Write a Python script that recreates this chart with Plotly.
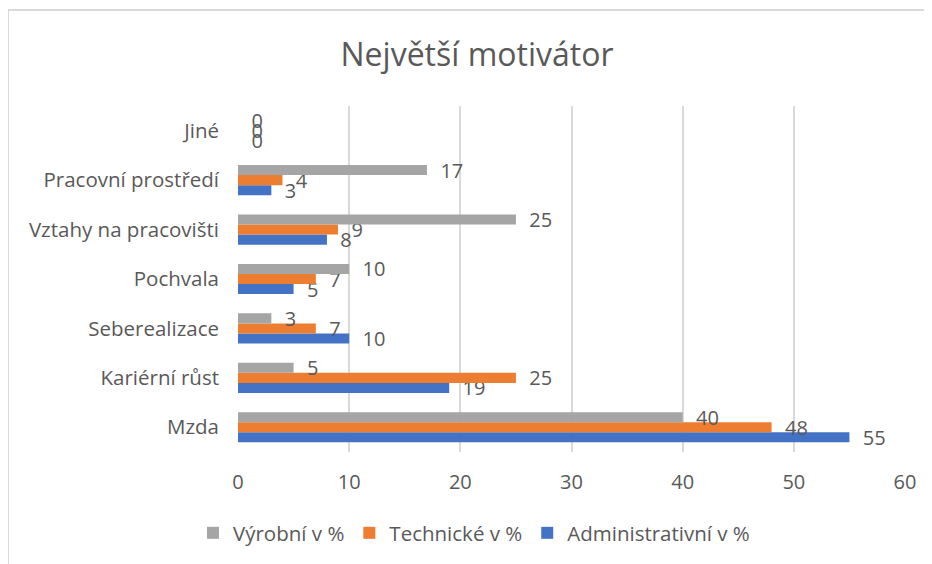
import plotly.graph_objects as go

categories = ["Mzda", "Kariérní růst", "Seberealizace", "Pochvala",
              "Vztahy na pracovišti", "Pracovní prostředí", "Jiné"]
administrativni = [55, 19, 10, 5, 8, 3, 0]
technicke = [48, 25, 7, 7, 9, 4, 0]
vyrobni = [40, 5, 3, 10, 25, 17, 0]
series_names = ["Administrativní v %", "Technické v %", "Výrobní v %"]
x_ticks = [0, 10, 20, 30, 40, 50, 60]

colors = ["#4472C4", "#ED7D31", "#A5A5A5"]
text_color = "#595959"
font_family = "Open Sans, Noto Sans, sans-serif"

W, H = 932, 564
# the page body adds an 8px offset; figure coordinates are shifted accordingly
OFF = 8
ML, MR, MT, MB = 238 - OFF, 27 + OFF, 106 - OFF, 112 + OFF

fig = go.Figure()
for name, vals, col in zip(series_names, [administrativni, technicke, vyrobni], colors):
    fig.add_trace(go.Bar(
        y=categories, x=vals, name=name, orientation="h",
        marker=dict(color=col, line=dict(width=0)),
        texttemplate="\u00a0\u00a0%{x}", textposition="outside",
        textfont=dict(size=20, color=text_color, family=font_family),
        constraintext="none", cliponaxis=False,
    ))

pw = W - ML - MR
ph = H - MT - MB
def px(xp):
    return (xp - OFF - ML) / pw
def py(yp):
    return (H - MB - (yp - OFF)) / ph

fig.update_layout(
    width=W, height=H,
    margin=dict(l=ML, r=MR, t=MT, b=MB, autoexpand=False),
    paper_bgcolor="white", plot_bgcolor="white",
    barmode="group", bargap=0.39, bargroupgap=0,
    font=dict(family=font_family, color=text_color, size=19),
    title=dict(text="Největší motivátor", x=(477 - OFF) / W, xref="container",
               y=1 - (55 - OFF) / H, yref="container", xanchor="center", yanchor="middle",
               font=dict(size=32, color=text_color, family=font_family)),
    legend=dict(orientation="h", traceorder="reversed", x=(474 - OFF) / W, xref="container",
                y=1 - (533 - OFF) / H, yref="container", xanchor="center", yanchor="middle",
                font=dict(size=20.5, color=text_color), itemwidth=30),
    xaxis=dict(range=[0, 60], tickvals=x_ticks, showgrid=True, gridcolor="#d9d9d9",
               gridwidth=1.5, zeroline=False, showline=False, automargin=False,
               tickfont=dict(size=20, color=text_color), ticklabelstandoff=16),
    yaxis=dict(showgrid=False, zeroline=False, showline=False, automargin=False,
               tickfont=dict(size=20.5, color=text_color), ticklabelstandoff=18),
    shapes=[
        dict(type="line", xref="paper", yref="paper", x0=px(8), x1=px(W + 20), y0=py(10), y1=py(10),
             line=dict(color="#d9d9d9", width=2)),
        dict(type="line", xref="paper", yref="paper", x0=px(8), x1=px(8), y0=py(10), y1=py(H + 20),
             line=dict(color="#d9d9d9", width=2)),
    ],
)

fig.write_html("out.html")
